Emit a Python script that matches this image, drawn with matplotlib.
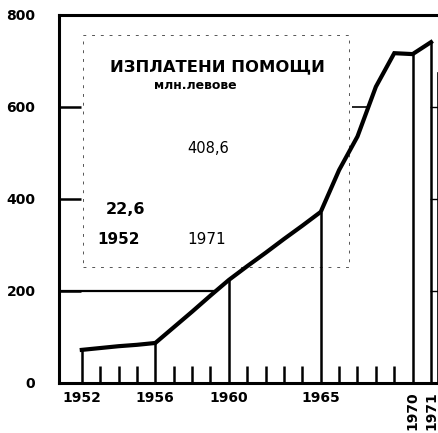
import numpy as np
import matplotlib
matplotlib.use("Agg")
import matplotlib.pyplot as plt
from matplotlib.patches import Rectangle

# изплатени помощи по години, млн. лева
years = [1952, 1953, 1954, 1955, 1956, 1957, 1958, 1959, 1960, 1961,
         1962, 1963, 1964, 1965, 1966, 1967, 1968, 1969, 1970, 1971]
values = [72, 76, 80, 83, 87, 121, 155, 190, 224, 254,
          283, 313, 342, 372, 463, 536, 644, 717, 715, 741]

label_years = [1952, 1956, 1960, 1965, 1970, 1971]
minor_years = [1953, 1954, 1955, 1957, 1958, 1959, 1961, 1962, 1963, 1964,
               1966, 1967, 1968, 1969]
y_ticks = [0, 200, 400, 600, 800]

plt.rcParams['font.family'] = ['DejaVu Sans']

fig = plt.figure(figsize=(4.39, 4.33), dpi=100)
ax = fig.add_axes([59 / 439, 50 / 433, 379 / 439, 368 / 433])

ax.plot(years, values, color='black', lw=3.0, solid_joinstyle='miter', zorder=4)

# вертикални линии под годините с надписи
for yr in label_years:
    ax.vlines(yr, 0, values[years.index(yr)], color='black', lw=1.8, zorder=3)

# линия на 200 до кривата и чертичка на 600
x200 = np.interp(200, values[:10], years[:10])
ax.hlines(200, 1950.76, x200, color='black', lw=1.6, zorder=3)
x600 = np.interp(600, values[13:18], years[13:18])
ax.hlines(600, 1966.7, x600, color='black', lw=1.2, zorder=3)

# рамка на надписа
ax.add_patch(Rectangle((1952.05, 252), 14.5, 505, fill=False, ec='#555555',
                       lw=0.7, ls=(0, (3, 6)), zorder=2))

ax.text(1959.4, 687, 'ИЗПЛАТЕНИ ПОМОЩИ',
        ha='center', va='center', fontsize=11.8, fontweight='bold')
ax.text(1958.2, 646, 'млн.левове',
        ha='center', va='center', fontsize=9, fontweight='bold')
ax.text(1958.85, 509, '408,6', ha='center', va='center', fontsize=10.5)
ax.text(1954.4, 378, '22,6', ha='center', va='center', fontsize=11.5,
        fontweight='bold')
ax.text(1954.0, 311, '1952', ha='center', va='center', fontsize=11,
        fontweight='bold')
ax.text(1958.8, 311, '1971', ha='center', va='center', fontsize=11)

ax.set_xlim(1950.76, 1971.38)
ax.set_ylim(0, 800)

ax.set_yticks(y_ticks)
ax.set_yticklabels([str(v) for v in y_ticks], fontsize=10, fontweight='bold')
ax.tick_params(axis='y', direction='in', length=16, width=1.8, pad=17,
               right=True, labelright=False)
for t in ax.yaxis.get_major_ticks():
    t.tick2line.set_markersize(6)
    t.tick2line.set_markeredgewidth(1.0)
    if t.get_loc() in (0, 800):
        t.tick2line.set_visible(False)

ax.set_xticks(label_years)
ax.set_xticklabels([str(y) for y in label_years], fontsize=10, fontweight='bold')
for lbl in ax.get_xticklabels()[-2:]:
    lbl.set_rotation(90)
    lbl.set_va('top')
ax.set_xticks(minor_years, minor=True)
ax.tick_params(axis='x', which='major', length=0, pad=6)
ax.tick_params(axis='x', which='minor', direction='in', length=12, width=1.8)

for side in ['left', 'top', 'bottom']:
    ax.spines[side].set_linewidth(2.2)
ax.spines['right'].set_linewidth(1.2)
ax.spines['right'].set_bounds(0, 674)

fig.savefig('out.png', dpi=100)
